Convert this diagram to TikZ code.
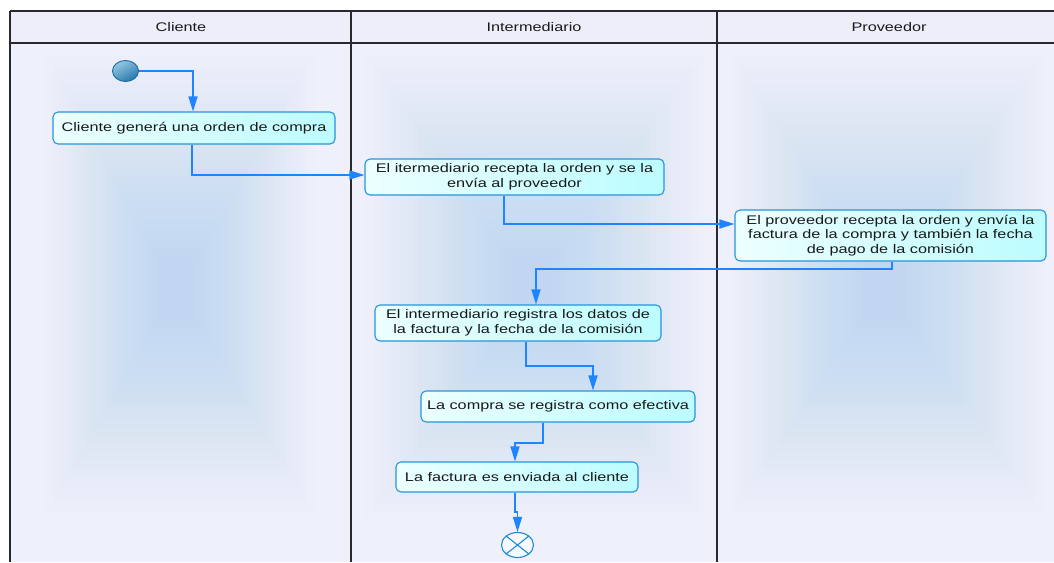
\documentclass[tikz,border=0pt]{standalone}
\usepackage{fontspec}
\setmainfont{Liberation Sans}[FakeStretch=1.3]
\usetikzlibrary{arrows.meta,shapes.geometric}

\definecolor{headbg}{RGB}{238,238,250}
\definecolor{lanebg}{RGB}{238,240,252}
\definecolor{glowc}{RGB}{182,205,242}
\definecolor{frame}{RGB}{40,40,45}
\definecolor{flowc}{RGB}{30,132,255}
\definecolor{boxline}{RGB}{40,148,218}
\definecolor{boxl}{RGB}{236,255,255}
\definecolor{boxr}{RGB}{188,252,255}
\definecolor{startl}{RGB}{150,200,226}
\definecolor{startd}{RGB}{38,120,172}
\definecolor{startline}{RGB}{26,105,160}
\definecolor{endline}{RGB}{28,140,214}
\definecolor{inkc}{RGB}{25,25,25}

% soft glow in the middle of a swimlane: outer box (#1,#2)-(#3,#4), core (#5,#6)-(#7,#8)
\newcommand\laneglow[8]{%
  \foreach \k in {0,...,25}{%
    \pgfmathsetmacro\tt{\k/25}%
    \pgfmathsetmacro\op{0.015+0.05*\tt}%
    \fill[glowc, fill opacity=\op]
      ({#1+(#5-#1)*\tt},{#2+(#6-#2)*\tt}) rectangle ({#3+(#7-#3)*\tt},{#4+(#8-#4)*\tt});
  }%
}

\tikzset{
  lanerule/.style={draw=frame, line width=1.2pt},
  lanetitle/.style={text=inkc, font=\fontsize{12.5}{14.5}\selectfont},
  act/.style={draw=boxline, line width=1.1pt, rounded corners=5pt,
    left color=boxl, right color=boxr, inner sep=0pt, align=center,
    text=inkc, font=\fontsize{12.5}{14.5}\selectfont},
  startnode/.style={ellipse, draw=startline, line width=0.9pt, inner sep=0pt,
    minimum width=26pt, minimum height=21pt,
    top color=startl, bottom color=startd, shading angle=30},
  endnode/.style={ellipse, draw=endline, line width=1.1pt, inner sep=0pt,
    minimum width=32pt, minimum height=25pt, fill=white!60!lanebg},
  flow/.style={draw=flowc, line width=1.3pt,
    -{Triangle[length=15pt,width=9pt]}},
}

\begin{document}
\begin{tikzpicture}[x=1pt,y=-1pt]
\useasboundingbox (0,0) rectangle (1054,562);
\fill[white] (0,0) rectangle (1054,562);

% swimlane backgrounds
\fill[headbg] (10,11) rectangle (1054,43);
\fill[lanebg] (10,43) rectangle (1054,562);
\laneglow{45}{50}{315}{515}{160}{262}{194}{318}
\laneglow{365}{50}{705}{520}{512}{262}{552}{320}
\laneglow{730}{50}{1045}{515}{866}{262}{902}{318}

% swimlane frame
\draw[lanerule] (10,11) -- (1054,11);
\draw[lanerule] (10,43) -- (1054,43);
\draw[lanerule] (10,11) -- (10,562);
\draw[lanerule] (351,11) -- (351,562);
\draw[lanerule] (717,11) -- (717,562);

\node[lanetitle] (tcli) at (181,27) {Cliente};
\node[lanetitle] (tint) at (534,27) {Intermediario};
\node[lanetitle] (tpro) at (889,27) {Proveedor};

% activities
\node[startnode] (start) at (125.5,71) {};
\node[act, minimum width=282pt, minimum height=32pt] (b1) at (194,128)
  {Cliente generá una orden de compra};
\node[act, minimum width=299pt, minimum height=36pt] (b2) at (514.5,177)
  {El itermediario recepta la orden y se la\\envía al proveedor};
\node[act, minimum width=311pt, minimum height=51pt] (b3) at (890.5,235.5)
  {El proveedor recepta la orden y envía la\\factura de la compra y también la fecha\\de pago de la comisión};
\node[act, minimum width=286pt, minimum height=36pt] (b4) at (518,323)
  {El intermediario registra los datos de\\la factura y la fecha de la comisión};
\node[act, minimum width=274pt, minimum height=31pt] (b5) at (558,406.5)
  {La compra se registra como efectiva};
\node[act, minimum width=242pt, minimum height=30pt] (b6) at (517,477)
  {La factura es enviada al cliente};
\node[endnode] (fin) at (517.5,545) {};
\draw[endline, line width=1.1pt] (fin.north west) -- (fin.south east)
  (fin.north east) -- (fin.south west);

% bends of the control flow
\coordinate (j0) at (193,71);
\coordinate (j1) at (192,175);
\coordinate (j2) at (504,224);
\coordinate (j3) at (892,269);
\coordinate (j4) at (536,269);
\coordinate (j5) at (526,366);
\coordinate (j6) at (593,366);
\coordinate (j7) at (543,443);
\coordinate (j8) at (515,443);
\coordinate (j9) at (515,512);
\coordinate (j10) at (517.5,512);

% control flow
\draw[flow] (start.east) -- (j0) -- (b1.north -| j0);
\draw[flow] (b1.south -| j1) -- (j1) -- (b2.west |- j1);
\draw[flow] (b2.south -| j2) -- (j2) -- (b3.west |- j2);
\draw[flow] (b3.south -| j3) -- (j3) -- (j4) -- (b4.north -| j4);
\draw[flow] (b4.south -| j5) -- (j5) -- (j6) -- (b5.north -| j6);
\draw[flow] (b5.south -| j7) -- (j7) -- (j8) -- (b6.north -| j8);
\draw[flow] (b6.south -| j9) -- (j9) -- (j10) -- (fin.north);
\end{tikzpicture}
\end{document}
